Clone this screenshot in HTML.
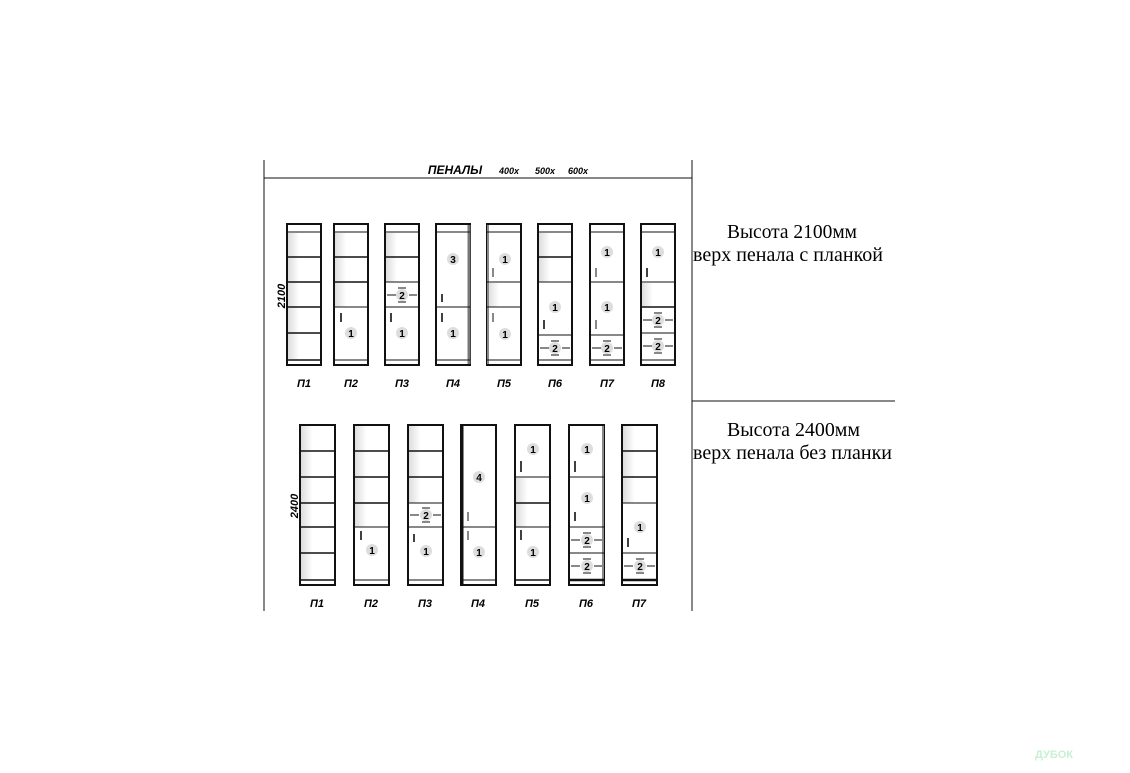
<!DOCTYPE html>
<html><head><meta charset="utf-8"><style>
html,body{margin:0;padding:0;background:#fff}
svg{display:block}
.c{fill:#fff;stroke:#111;stroke-width:2}
.l{stroke:#111;stroke-width:1.6}
.t{stroke:#111;stroke-width:1}
.h{stroke:#111;stroke-width:1.6}
.n{font-family:"Liberation Sans",sans-serif;font-weight:bold;font-size:10px;text-anchor:middle}
.lab{font-family:"Liberation Sans",sans-serif;font-weight:bold;font-style:italic;font-size:11px;text-anchor:middle}
.rt{font-family:"Liberation Serif",serif;font-size:19.5px}
</style></head><body>
<svg width="1130" height="773" viewBox="0 0 1130 773" xmlns="http://www.w3.org/2000/svg">
<defs>
<linearGradient id="g" x1="0" x2="1"><stop offset="0" stop-color="#ddd"/><stop offset="0.35" stop-color="#fff"/></linearGradient>
</defs>
<!-- frame -->
<line x1="264" y1="160" x2="264" y2="611" class="t"/>
<line x1="692" y1="160" x2="692" y2="611" class="t"/>
<line x1="264" y1="178" x2="692" y2="178" class="t"/>
<line x1="692" y1="401" x2="895" y2="401" class="t" stroke="#666"/>
<text x="455" y="174" font-family="Liberation Sans,sans-serif" font-weight="bold" font-style="italic" font-size="12" text-anchor="middle">ПЕНАЛЫ</text>
<text x="509" y="174" font-family="Liberation Sans,sans-serif" font-weight="bold" font-style="italic" font-size="9" text-anchor="middle">400x</text>
<text x="545" y="174" font-family="Liberation Sans,sans-serif" font-weight="bold" font-style="italic" font-size="9" text-anchor="middle">500x</text>
<text x="578" y="174" font-family="Liberation Sans,sans-serif" font-weight="bold" font-style="italic" font-size="9" text-anchor="middle">600x</text>
<text class="rt" x="727" y="238" textLength="130" lengthAdjust="spacingAndGlyphs">Высота 2100мм</text>
<text class="rt" x="693" y="261" textLength="190" lengthAdjust="spacingAndGlyphs">верх пенала с планкой</text>
<text class="rt" x="727" y="436" textLength="133" lengthAdjust="spacingAndGlyphs">Высота 2400мм</text>
<text class="rt" x="693" y="459" textLength="199" lengthAdjust="spacingAndGlyphs">верх пенала без планки</text>
<text transform="translate(285,296) rotate(-90)" font-family="Liberation Sans,sans-serif" font-weight="bold" font-style="italic" font-size="11" text-anchor="middle">2100</text>
<text transform="translate(298,506) rotate(-90)" font-family="Liberation Sans,sans-serif" font-weight="bold" font-style="italic" font-size="11" text-anchor="middle">2400</text>
<text x="1054" y="758" font-family="Liberation Sans,sans-serif" font-weight="bold" font-size="11" fill="#c8f0d3" text-anchor="middle">ДУБОК</text>

<!-- TOP ROW -->
<g transform="translate(287,0)">
<rect x="0" y="224" width="34" height="141" class="c"/>
<rect x="1" y="233" width="32" height="126" fill="url(#g)"/>
<line x1="0" y1="232" x2="34" y2="232" class="t"/><line x1="0" y1="360" x2="34" y2="360" class="l"/>
<line x1="0" y1="257" x2="34" y2="257" class="l"/><line x1="0" y1="282" x2="34" y2="282" class="l"/><line x1="0" y1="307" x2="34" y2="307" class="l"/><line x1="0" y1="333" x2="34" y2="333" class="l"/>
<text class="lab" x="17" y="387">П1</text></g>
<g transform="translate(334,0)">
<rect x="0" y="224" width="34" height="141" class="c"/>
<rect x="1" y="233" width="32" height="74" fill="url(#g)"/>
<line x1="0" y1="232" x2="34" y2="232" class="t"/><line x1="0" y1="360" x2="34" y2="360" class="t"/>
<line x1="0" y1="257" x2="34" y2="257" class="l"/><line x1="0" y1="282" x2="34" y2="282" class="l"/><line x1="0" y1="307" x2="34" y2="307" class="t"/>
<line x1="7" y1="313" x2="7" y2="322" class="h"/><circle cx="17" cy="333" r="6" fill="#ddd"/><text class="n" x="17" y="337">1</text>
<text class="lab" x="17" y="387">П2</text></g>
<g transform="translate(385,0)">
<rect x="0" y="224" width="34" height="141" class="c"/>
<rect x="1" y="233" width="32" height="49" fill="url(#g)"/>
<line x1="0" y1="232" x2="34" y2="232" class="t"/><line x1="0" y1="360" x2="34" y2="360" class="t"/>
<line x1="0" y1="257" x2="34" y2="257" class="l"/><line x1="0" y1="282" x2="34" y2="282" class="t"/><line x1="0" y1="307" x2="34" y2="307" class="t"/>
<line x1="2" y1="295" x2="11" y2="295" class="t"/><line x1="24" y1="295" x2="32" y2="295" class="t"/><circle cx="17" cy="295" r="6" fill="#ddd"/><text class="n" x="17" y="299">2</text><line x1="13" y1="288" x2="21" y2="288" class="t"/><line x1="13" y1="302" x2="21" y2="302" class="t"/>
<line x1="6" y1="313" x2="6" y2="322" class="h"/><circle cx="17" cy="333" r="6" fill="#ddd"/><text class="n" x="17" y="337">1</text>
<text class="lab" x="17" y="387">П3</text></g>
<g transform="translate(436,0)">
<rect x="0" y="224" width="34" height="141" class="c"/>
<line x1="33" y1="225" x2="33" y2="364" stroke="#777" stroke-width="3"/>
<line x1="0" y1="232" x2="34" y2="232" class="t"/><line x1="0" y1="360" x2="34" y2="360" class="t"/>
<line x1="0" y1="307" x2="34" y2="307" class="t"/>
<circle cx="17" cy="259" r="6" fill="#ddd"/><text class="n" x="17" y="263">3</text>
<line x1="6" y1="294" x2="6" y2="302" class="h"/><line x1="6" y1="313" x2="6" y2="322" class="h"/>
<circle cx="17" cy="333" r="6" fill="#ddd"/><text class="n" x="17" y="337">1</text>
<text class="lab" x="17" y="387">П4</text></g>
<g transform="translate(487,0)">
<rect x="0" y="224" width="34" height="141" class="c"/>
<rect x="1" y="283" width="32" height="24" fill="url(#g)"/>
<line x1="1" y1="225" x2="1" y2="364" stroke="#888" stroke-width="2"/>
<line x1="0" y1="232" x2="34" y2="232" class="t"/><line x1="0" y1="360" x2="34" y2="360" class="t"/>
<line x1="0" y1="282" x2="34" y2="282" class="t"/><line x1="0" y1="307" x2="34" y2="307" class="t"/>
<circle cx="18" cy="259" r="6" fill="#ddd"/><text class="n" x="18" y="263">1</text>
<line x1="6" y1="268" x2="6" y2="277" class="t"/><line x1="6" y1="313" x2="6" y2="322" class="t"/>
<circle cx="18" cy="334" r="6" fill="#ddd"/><text class="n" x="18" y="338">1</text>
<text class="lab" x="17" y="387">П5</text></g>
<g transform="translate(538,0)">
<rect x="0" y="224" width="34" height="141" class="c"/>
<rect x="1" y="233" width="32" height="49" fill="url(#g)"/>
<line x1="0" y1="232" x2="34" y2="232" class="t"/><line x1="0" y1="360" x2="34" y2="360" class="t"/>
<line x1="0" y1="257" x2="34" y2="257" class="l"/><line x1="0" y1="282" x2="34" y2="282" class="t"/><line x1="0" y1="335" x2="34" y2="335" class="t"/>
<circle cx="17" cy="307" r="6" fill="#ddd"/><text class="n" x="17" y="311">1</text>
<line x1="6" y1="320" x2="6" y2="329" class="h"/>
<line x1="2" y1="348" x2="11" y2="348" class="t"/><line x1="24" y1="348" x2="32" y2="348" class="t"/><circle cx="17" cy="348" r="6" fill="#ddd"/><text class="n" x="17" y="352">2</text><line x1="13" y1="341" x2="21" y2="341" class="t"/><line x1="13" y1="355" x2="21" y2="355" class="t"/>
<text class="lab" x="17" y="387">П6</text></g>
<g transform="translate(590,0)">
<rect x="0" y="224" width="34" height="141" class="c"/>
<line x1="0" y1="232" x2="34" y2="232" class="t"/><line x1="0" y1="360" x2="34" y2="360" class="t"/>
<line x1="0" y1="282" x2="34" y2="282" class="t"/><line x1="0" y1="335" x2="34" y2="335" class="t"/>
<circle cx="17" cy="252" r="6" fill="#ddd"/><text class="n" x="17" y="256">1</text>
<line x1="6" y1="268" x2="6" y2="277" class="t"/>
<circle cx="17" cy="307" r="6" fill="#ddd"/><text class="n" x="17" y="311">1</text>
<line x1="6" y1="320" x2="6" y2="329" class="t"/>
<line x1="2" y1="348" x2="11" y2="348" class="t"/><line x1="24" y1="348" x2="32" y2="348" class="t"/><circle cx="17" cy="348" r="6" fill="#ddd"/><text class="n" x="17" y="352">2</text><line x1="13" y1="341" x2="21" y2="341" class="t"/><line x1="13" y1="355" x2="21" y2="355" class="t"/>
<text class="lab" x="17" y="387">П7</text></g>
<g transform="translate(641,0)">
<rect x="0" y="224" width="34" height="141" class="c"/>
<rect x="1" y="283" width="32" height="24" fill="url(#g)"/>
<line x1="0" y1="232" x2="34" y2="232" class="t"/><line x1="0" y1="360" x2="34" y2="360" class="t"/>
<line x1="0" y1="282" x2="34" y2="282" class="t"/><line x1="0" y1="307" x2="34" y2="307" class="l"/><line x1="0" y1="333" x2="34" y2="333" class="t"/>
<circle cx="17" cy="252" r="6" fill="#ddd"/><text class="n" x="17" y="256">1</text>
<line x1="6" y1="268" x2="6" y2="277" class="h"/>
<line x1="2" y1="320" x2="11" y2="320" class="t"/><line x1="24" y1="320" x2="32" y2="320" class="t"/><circle cx="17" cy="320" r="6" fill="#ddd"/><text class="n" x="17" y="324">2</text><line x1="13" y1="313" x2="21" y2="313" class="t"/><line x1="13" y1="327" x2="21" y2="327" class="t"/>
<line x1="2" y1="346" x2="11" y2="346" class="t"/><line x1="24" y1="346" x2="32" y2="346" class="t"/><circle cx="17" cy="346" r="6" fill="#ddd"/><text class="n" x="17" y="350">2</text><line x1="13" y1="339" x2="21" y2="339" class="t"/><line x1="13" y1="353" x2="21" y2="353" class="t"/>
<text class="lab" x="17" y="387">П8</text></g>

<!-- BOTTOM ROW -->
<g transform="translate(300,0)">
<rect x="0" y="425" width="35" height="160" class="c"/>
<rect x="1" y="426" width="33" height="154" fill="url(#g)"/>
<line x1="0" y1="580" x2="35" y2="580" class="l"/>
<line x1="0" y1="451" x2="35" y2="451" class="l"/><line x1="0" y1="477" x2="35" y2="477" class="l"/><line x1="0" y1="503" x2="35" y2="503" class="l"/><line x1="0" y1="527" x2="35" y2="527" class="l"/><line x1="0" y1="553" x2="35" y2="553" class="l"/>
<text class="lab" x="17" y="607">П1</text></g>
<g transform="translate(354,0)">
<rect x="0" y="425" width="35" height="160" class="c"/>
<rect x="1" y="426" width="33" height="101" fill="url(#g)"/>
<line x1="0" y1="580" x2="35" y2="580" class="t"/>
<line x1="0" y1="451" x2="35" y2="451" class="l"/><line x1="0" y1="477" x2="35" y2="477" class="l"/><line x1="0" y1="503" x2="35" y2="503" class="l"/><line x1="0" y1="527" x2="35" y2="527" class="t"/>
<line x1="7" y1="531" x2="7" y2="540" class="h"/><circle cx="18" cy="550" r="6" fill="#ddd"/><text class="n" x="18" y="554">1</text>
<text class="lab" x="17" y="607">П2</text></g>
<g transform="translate(408,0)">
<rect x="0" y="425" width="35" height="160" class="c"/>
<rect x="1" y="426" width="33" height="77" fill="url(#g)"/>
<line x1="0" y1="580" x2="35" y2="580" class="t"/>
<line x1="0" y1="451" x2="35" y2="451" class="l"/><line x1="0" y1="477" x2="35" y2="477" class="l"/><line x1="0" y1="503" x2="35" y2="503" class="t"/><line x1="0" y1="527" x2="35" y2="527" class="t"/>
<line x1="2" y1="515" x2="11" y2="515" class="t"/><line x1="25" y1="515" x2="33" y2="515" class="t"/><circle cx="18" cy="515" r="6" fill="#ddd"/><text class="n" x="18" y="519">2</text><line x1="14" y1="508" x2="22" y2="508" class="t"/><line x1="14" y1="522" x2="22" y2="522" class="t"/>
<line x1="6" y1="534" x2="6" y2="542" class="h"/><circle cx="18" cy="551" r="6" fill="#ddd"/><text class="n" x="18" y="555">1</text>
<text class="lab" x="17" y="607">П3</text></g>
<g transform="translate(461,0)">
<rect x="0" y="425" width="35" height="160" class="c"/>
<line x1="1" y1="425" x2="1" y2="585" stroke="#111" stroke-width="3"/>
<line x1="0" y1="580" x2="35" y2="580" class="t"/><line x1="0" y1="527" x2="35" y2="527" class="t"/>
<circle cx="18" cy="477" r="6" fill="#ddd"/><text class="n" x="18" y="481">4</text>
<line x1="7" y1="512" x2="7" y2="521" class="t"/><line x1="7" y1="531" x2="7" y2="540" class="t"/>
<circle cx="18" cy="552" r="6" fill="#ddd"/><text class="n" x="18" y="556">1</text>
<text class="lab" x="17" y="607">П4</text></g>
<g transform="translate(515,0)">
<rect x="0" y="425" width="35" height="160" class="c"/>
<rect x="1" y="478" width="33" height="49" fill="url(#g)"/>
<line x1="0" y1="580" x2="35" y2="580" class="l"/>
<line x1="0" y1="477" x2="35" y2="477" class="t"/><line x1="0" y1="503" x2="35" y2="503" class="l"/><line x1="0" y1="527" x2="35" y2="527" class="t"/>
<circle cx="18" cy="449" r="6" fill="#ddd"/><text class="n" x="18" y="453">1</text>
<line x1="6" y1="461" x2="6" y2="472" class="h"/><line x1="6" y1="530" x2="6" y2="540" class="h"/>
<circle cx="18" cy="552" r="6" fill="#ddd"/><text class="n" x="18" y="556">1</text>
<text class="lab" x="17" y="607">П5</text></g>
<g transform="translate(569,0)">
<rect x="0" y="425" width="35" height="160" class="c"/>
<line x1="34" y1="426" x2="34" y2="584" stroke="#888" stroke-width="2"/>
<line x1="0" y1="580" x2="35" y2="580" stroke="#111" stroke-width="2.5"/>
<line x1="0" y1="477" x2="35" y2="477" class="t"/><line x1="0" y1="527" x2="35" y2="527" class="t"/><line x1="0" y1="553" x2="35" y2="553" class="t"/>
<circle cx="18" cy="449" r="6" fill="#ddd"/><text class="n" x="18" y="453">1</text>
<line x1="6" y1="461" x2="6" y2="472" class="h"/>
<circle cx="18" cy="498" r="6" fill="#ddd"/><text class="n" x="18" y="502">1</text>
<line x1="6" y1="512" x2="6" y2="521" class="h"/>
<line x1="2" y1="540" x2="11" y2="540" class="t"/><line x1="25" y1="540" x2="33" y2="540" class="t"/><circle cx="18" cy="540" r="6" fill="#ddd"/><text class="n" x="18" y="544">2</text><line x1="14" y1="533" x2="22" y2="533" class="t"/><line x1="14" y1="547" x2="22" y2="547" class="t"/>
<line x1="2" y1="566" x2="11" y2="566" class="t"/><line x1="25" y1="566" x2="33" y2="566" class="t"/><circle cx="18" cy="566" r="6" fill="#ddd"/><text class="n" x="18" y="570">2</text><line x1="14" y1="559" x2="22" y2="559" class="t"/><line x1="14" y1="573" x2="22" y2="573" class="t"/>
<text class="lab" x="17" y="607">П6</text></g>
<g transform="translate(622,0)">
<rect x="0" y="425" width="35" height="160" class="c"/>
<rect x="1" y="426" width="33" height="77" fill="url(#g)"/>
<line x1="0" y1="580" x2="35" y2="580" stroke="#111" stroke-width="2.5"/>
<line x1="0" y1="451" x2="35" y2="451" class="l"/><line x1="0" y1="477" x2="35" y2="477" class="l"/><line x1="0" y1="503" x2="35" y2="503" class="t"/><line x1="0" y1="553" x2="35" y2="553" class="t"/>
<circle cx="18" cy="527" r="6" fill="#ddd"/><text class="n" x="18" y="531">1</text>
<line x1="6" y1="538" x2="6" y2="547" class="h"/>
<line x1="2" y1="566" x2="11" y2="566" class="t"/><line x1="25" y1="566" x2="33" y2="566" class="t"/><circle cx="18" cy="566" r="6" fill="#ddd"/><text class="n" x="18" y="570">2</text><line x1="14" y1="559" x2="22" y2="559" class="t"/><line x1="14" y1="573" x2="22" y2="573" class="t"/>
<text class="lab" x="17" y="607">П7</text></g>
</svg>
</body></html>
